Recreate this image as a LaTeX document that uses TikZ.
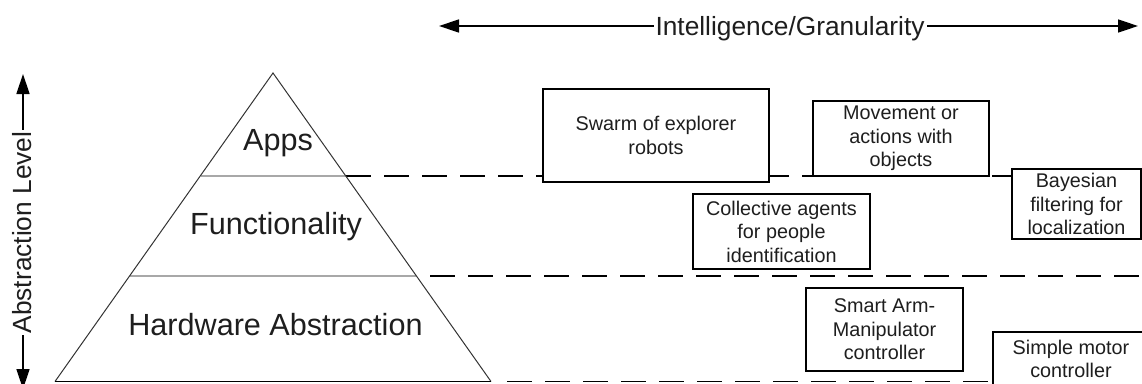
\documentclass[tikz,border=0pt]{standalone}
\usepackage{fontspec}
\setmainfont{Liberation Sans}
\usetikzlibrary{arrows.meta}
\definecolor{txt}{HTML}{1E1E1E}
\definecolor{edge}{HTML}{333333}
\definecolor{divider}{HTML}{A8A8A8}
\begin{document}
\begin{tikzpicture}[x=1pt,y=-1pt,
  box/.style={draw=black, line width=1.3pt, fill=white, align=center, text=txt,
    font=\fontsize{19.8}{23.5}\selectfont, inner sep=0pt},
  layerlabel/.style={text=txt, font=\fontsize{30.6}{34}\selectfont, inner sep=0pt, anchor=base},
  axislabel/.style={text=txt, fill=white, font=\fontsize{26.3}{30}\selectfont, inner xsep=2pt, inner ysep=1pt},
  dashline/.style={line width=1.4pt, dash pattern=on 25pt off 13pt},
  axisarrow/.style={line width=1.4pt, {Triangle[length=20pt,width=13pt]}-{Triangle[length=20pt,width=13pt]}},
]
\useasboundingbox (0,0) rectangle (1142,383);
\clip (0,0) rectangle (1142,383);

% dashed level lines
\coordinate (l1s) at (346,176);
\coordinate (l1e) at (1150,176);
\coordinate (l2s) at (430,276);
\coordinate (l2e) at (1150,276);
\coordinate (l3s) at (507,381.5);
\coordinate (l3e) at (1150,381.5);
\draw[dashline] (l1s) -- (l1e);
\draw[dashline] (l2s) -- (l2e);
\draw[dashline] (l3s) -- (l3e);

% pyramid
\coordinate (apex) at (273,73);
\coordinate (bl) at (55,381.5);
\coordinate (br) at (491,381.5);
\draw[divider, line width=2pt] (201,176) -- (346,176);
\draw[divider, line width=2pt] (130,276) -- (416,276);
\draw[edge, line width=1pt, line join=miter] (bl) -- (apex) -- (br);
\draw[black, line width=1.6pt] (bl) -- (br);
\node[layerlabel] (apps) at (278,150) {Apps};
\node[layerlabel] (func) at (276,234) {Functionality};
\node[layerlabel] (hw) at (275.5,335) {Hardware Abstraction};

% axes
\coordinate (vtop) at (23,74);
\coordinate (vbot) at (23,389);
\draw[axisarrow] (vbot) -- (vtop);
\node[axislabel, rotate=90] (abs) at (22.5,232.5) {Abstraction Level};

\coordinate (hl) at (439,26);
\coordinate (hr) at (1138,26);
\draw[axisarrow] (hl) -- (hr);
\node[axislabel, anchor=base, inner ysep=0pt] (intel) at (790,35.5) {Intelligence/Granularity};

% boxes
\node[box, minimum width=226, minimum height=93] (swarm) at (656,135.5) {Swarm of explorer\\robots};
\node[box, minimum width=176, minimum height=75] (move) at (901,138.5) {Movement or\\actions with\\objects};
\node[box, minimum width=177, minimum height=75] (coll) at (781.5,231.5) {Collective agents\\for people\\identification};
\node[box, minimum width=129, minimum height=70] (bayes) at (1076.5,204) {Bayesian\\filtering for\\localization};
\node[box, minimum width=157, minimum height=83] (arm) at (884.5,329.5) {Smart Arm-\\Manipulator\\controller};
\node[box, minimum width=156, minimum height=54] (motor) at (1071,359) {Simple motor\\controller};
\end{tikzpicture}
\end{document}
